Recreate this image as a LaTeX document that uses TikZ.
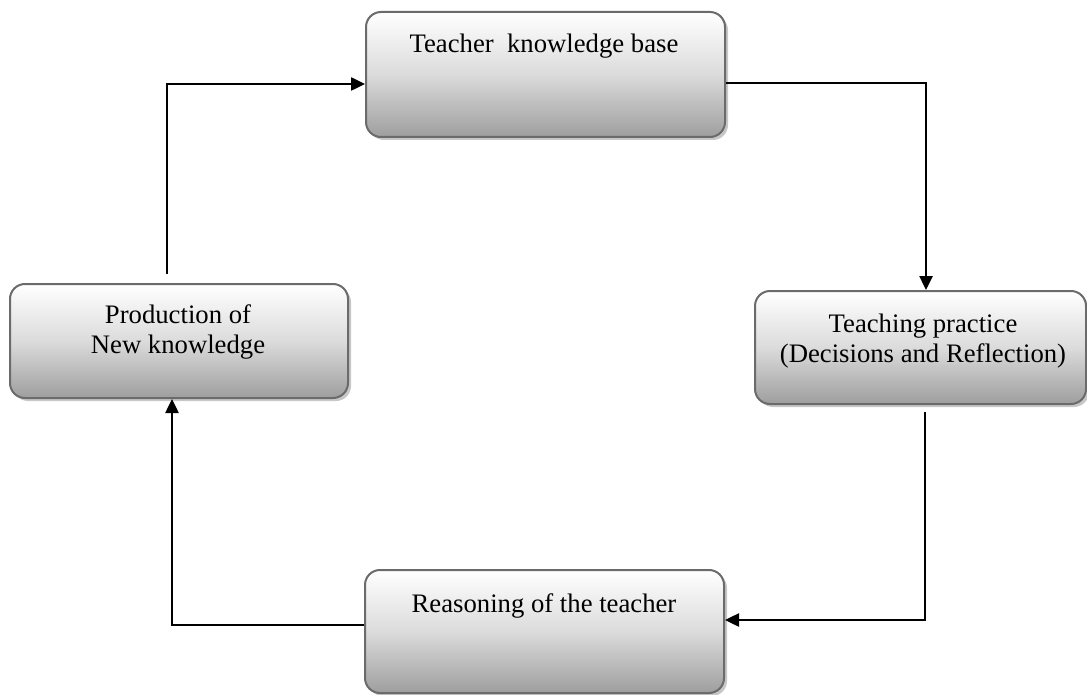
\documentclass[tikz,border=0pt]{standalone}
\usepackage{fontspec}
\setmainfont{Liberation Serif}
\usetikzlibrary{shadows,arrows.meta}

\tikzset{
  cycbox/.style={
    draw=black!58, line width=2pt, rounded corners=15pt,
    top color=white, bottom color=black!38, middle color=black!14,
    drop shadow={shadow xshift=3pt, shadow yshift=-3pt, fill=black!22, opacity=1},
    inner sep=0pt
  },
  boxtext/.style={font=\fontsize{26.7}{30}\selectfont, align=center, inner sep=0pt},
  conn/.style={draw=black, line width=2.5pt, -{Triangle[length=14pt,width=13pt]}}
}

\begin{document}
\begin{tikzpicture}[x=1pt, y=-1pt]
  \useasboundingbox (0,0) rectangle (1087,695);

  % the four stages of the cycle
  \node[cycbox, minimum width=359pt, minimum height=125pt] (top)    at (545.5,74.5) {};
  \node[cycbox, minimum width=331pt, minimum height=113pt] (right)  at (920.5,347.5) {};
  \node[cycbox, minimum width=338pt, minimum height=114pt] (left)   at (179,341) {};
  \node[cycbox, minimum width=359pt, minimum height=123pt] (bottom) at (544.5,631.5) {};

  % stage labels, set near the top of each box (base = last line)
  \node[boxtext, anchor=base] (ttop) at (544,53) {Teacher~ knowledge base};
  \node[boxtext, anchor=base] (tright) at (923,362) {Teaching practice\\(Decisions and Reflection)};
  \node[boxtext, anchor=base] (tleft) at (178,353) {Production of\\New knowledge};
  \node[boxtext, anchor=base] (tbottom) at (544,612) {Reasoning of the teacher};

  % connectors running clockwise round the cycle
  \draw[conn] ([yshift=-8.5pt]top.east) -| ([xshift=5.5pt]right.north);
  \draw[conn] ([xshift=4.5pt,yshift=-7pt]right.south) |- ([yshift=11.5pt]bottom.east);
  \draw[conn] ([yshift=6.5pt]bottom.west) -| ([xshift=-7pt]left.south);
  \draw[conn] ([xshift=-12pt,yshift=9pt]left.north) |- ([yshift=-9.5pt]top.west);
\end{tikzpicture}
\end{document}
